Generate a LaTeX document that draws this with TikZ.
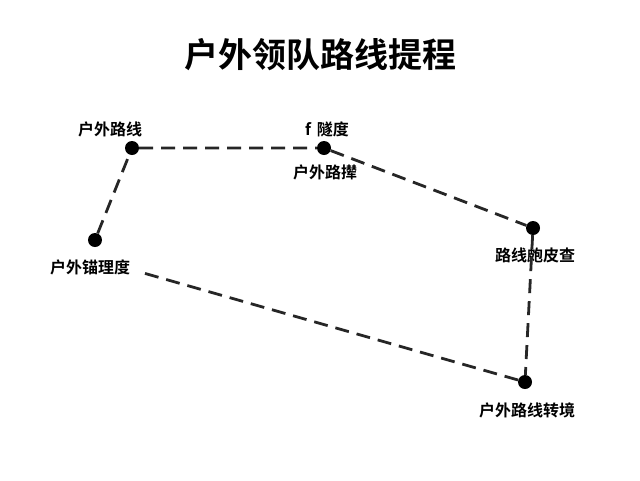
\documentclass[tikz,border=0pt]{standalone}
\usepackage{fontspec}
\newfontfamily\cjk{Noto Sans CJK SC}[BoldFont={Noto Sans CJK SC Bold}]
\begin{document}
\begin{tikzpicture}[x=1pt,y=-1pt,
  dot/.style={circle,fill=black,inner sep=0pt,minimum size=14pt},
  lbl/.style={font=\cjk\bfseries\fontsize{16}{18}\selectfont,inner sep=0pt},
  path/.style={line width=2.8pt,dash pattern=on 14pt off 8pt,black!85}]
\useasboundingbox (0,0) rectangle (640,480);
\fill[white] (0,0) rectangle (640,480);
\node[font=\cjk\bfseries\fontsize{34}{38}\selectfont] (title) at (320,55) {户外领队路线提程};
\node[dot] (A) at (132,148) {};
\node[dot] (B) at (324,148) {};
\node[dot] (C) at (533,228) {};
\node[dot] (D) at (525,382) {};
\node[dot] (E) at (95,240) {};
\node[lbl] (la) at (110,129) {户外路线};
\node[lbl] (lb) at (327,129) {f\hspace{6pt}隧度};
\node[lbl] (lb2) at (325,172) {户外路撵};
\node[lbl] (lc) at (535,255) {路线皰皮查};
\node[lbl] (ld) at (527,410) {户外路线转境};
\node[lbl] (le) at (90,267) {户外锚理度};
\coordinate (leend) at (140,272);
\draw[path] (E) -- (A) -- (B) -- (C) -- (D) -- (leend);
\end{tikzpicture}
\end{document}
